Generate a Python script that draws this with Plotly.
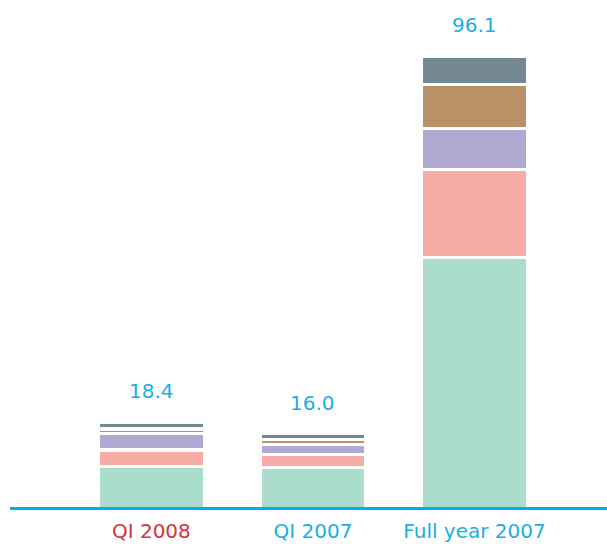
import plotly.graph_objects as go

categories = ["QI 2008", "QI 2007", "Full year 2007"]
cat_colors = ["#d2343c", "#1aaee6", "#1aaee6"]
totals = [18.4, 16.0, 96.1]

seg_names = ["A", "B", "C", "D", "E"]
seg_colors = ["#acdccb", "#f8aca6", "#b0aad3", "#b99167", "#738891"]
seg_values = [
    [9.0, 8.8, 53.3],   # green
    [3.5, 2.8, 18.7],   # pink
    [3.5, 2.1, 8.7],    # purple
    [1.0, 1.0, 9.4],    # brown
    [1.4, 1.3, 6.0],    # grey
]

xs = list(range(len(categories)))
FONT = "DejaVu Sans, Roboto, sans-serif"

fig = go.Figure()
for name, col, vals in zip(seg_names, seg_colors, seg_values):
    fig.add_trace(go.Bar(
        x=xs, y=vals, name=name,
        marker=dict(color=col, line=dict(color="white", width=3.4)),
        hoverinfo="skip",
    ))

for x, t in zip(xs, totals):
    fig.add_annotation(
        x=x, y=t, text=f"{t:.1f}", showarrow=False,
        yanchor="middle", yshift=31,
        font=dict(family=FONT, size=20, color="#1aaee6"),
    )

ticktext = [f'<span style="color:{c}">{n}</span>' for n, c in zip(categories, cat_colors)]

fig.update_layout(
    width=607, height=544,
    margin=dict(l=10, r=0, t=10, b=37),
    barmode="stack", bargap=0.344,
    showlegend=False,
    plot_bgcolor="white", paper_bgcolor="white",
    font=dict(family=FONT, size=20, color="#1aaee6"),
    xaxis=dict(
        range=[-0.875, 2.82], tickvals=xs, ticktext=ticktext,
        showline=True, linecolor="#00aee8", linewidth=2.5,
        showgrid=False, zeroline=False, ticks="", fixedrange=True,
        tickfont=dict(family=FONT, size=20), ticklabelstandoff=4,
    ),
    yaxis=dict(
        range=[0.4, 105.9], visible=False, showgrid=False, zeroline=False,
        fixedrange=True,
    ),
)

fig.write_html(
    "out.html",
    config={"displayModeBar": False, "staticPlot": True},
    post_script="document.body.style.margin='0';document.body.style.overflow='hidden';",
)
